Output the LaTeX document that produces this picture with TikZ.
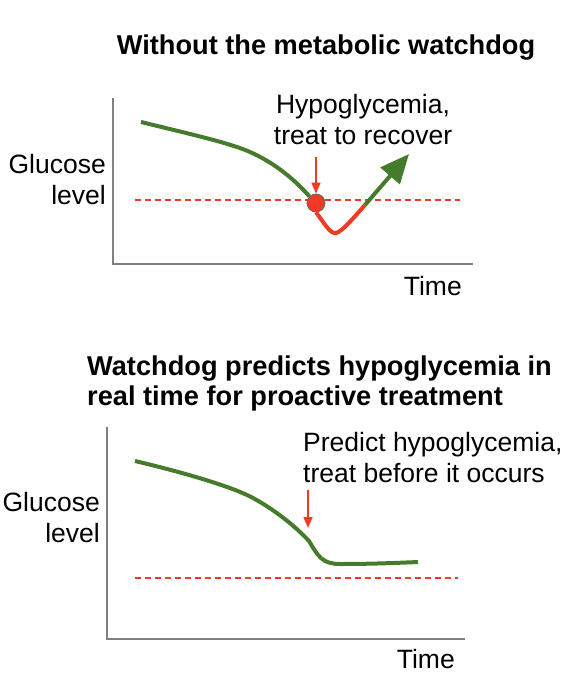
\documentclass[tikz,border=0pt]{standalone}
\usepackage{fontspec}
\setmainfont{Liberation Sans}
\usetikzlibrary{arrows.meta,positioning,calc}
\definecolor{glcgreen}{HTML}{457B2B}
\definecolor{lowred}{HTML}{F03A24}
\definecolor{axgray}{HTML}{808080}
\tikzset{
  axis/.style={draw=axgray, line width=1.5pt},
  glc/.style={draw=glcgreen, line width=4pt},
  low/.style={draw=lowred, line width=4pt},
  thr/.style={draw=lowred, line width=1.2pt, dash pattern=on 6pt off 4pt},
  pin/.style={draw=lowred, line width=1.5pt, -{Triangle[length=11pt, width=9pt]}},
  txt/.style={inner sep=0pt, font=\fontsize{26.5}{31}\selectfont, align=#1},
  txt/.default=center,
  ttl/.style={inner sep=0pt, font=\fontsize{27.2}{30}\selectfont\bfseries, align=left},
}

\begin{document}
\begin{tikzpicture}[x=1pt, y=-1pt]
  \useasboundingbox (0,0) rectangle (588,690);

  % without the watchdog
  \node[ttl, anchor=base] (ttlA) at (326,55) {Without the metabolic watchdog};
  \coordinate (orgA) at (113,264);
  \coordinate (topA) at (113,98);
  \coordinate (endA) at (473,264);
  \draw[axis] (topA) -- (orgA) -- (endA);
  \node[txt=right, anchor=base east] (ylabA) at (106,204) {Glucose\\level};
  \node[txt, anchor=base east] (xlabA) at (462,295) {Time};
  \coordinate (thrA0) at (135,200);
  \coordinate (thrA1) at (460,200);
  \draw[thr] (thrA0) -- (thrA1);
  \node[circle, fill=lowred, draw=black!60, line width=0.8pt, minimum size=18pt, inner sep=0pt] (hypo) at (316,203) {};
  \draw[glc] (141,122) .. controls (190,134) and (230,143) .. (250,152)
    .. controls (275,163) and (295,180) .. (hypo.north west);
  \coordinate (rise) at (365,205);
  \draw[low] (hypo.south) .. controls (325,224) and (330,234) .. (336,233)
    .. controls (342,232) and (355,216) .. (rise);
  \coordinate (tipA) at (409,154);
  \draw[glc, -{Triangle[length=29pt, width=25pt]}] (rise) -- (tipA);
  \node[txt, anchor=base] (noteA) at (363,144) {Hypoglycemia,\\treat to recover};
  \coordinate (pinA) at (316,157);
  \draw[pin] (pinA) -- (hypo.north);

  % with the watchdog
  \node[ttl, anchor=base west] (ttlB) at (87,405) {Watchdog predicts hypoglycemia in\\real time for proactive treatment};
  \coordinate (orgB) at (107,639);
  \coordinate (topB) at (107,427);
  \coordinate (endB) at (465,639);
  \draw[axis] (topB) -- (orgB) -- (endB);
  \node[txt=right, anchor=base east] (ylabB) at (100,542) {Glucose\\level};
  \node[txt, anchor=base east] (xlabB) at (455,668) {Time};
  \coordinate (thrB0) at (135,578);
  \coordinate (thrB1) at (458,578);
  \draw[thr] (thrB0) -- (thrB1);
  \coordinate (turn) at (309,541);
  \draw[glc] (135,461) .. controls (190,474) and (235,488) .. (253,498)
    .. controls (275,510) and (295,526) .. (turn)
    .. controls (318,556) and (322,564) .. (340,564)
    .. controls (370,564) and (395,563) .. (418,562);
  \node[txt=left, anchor=base west] (noteB) at (303,482) {Predict hypoglycemia,\\treat before it occurs};
  \coordinate (pinB0) at (308,490);
  \coordinate (pinB1) at (308,528);
  \draw[pin] (pinB0) -- (pinB1);
\end{tikzpicture}
\end{document}
